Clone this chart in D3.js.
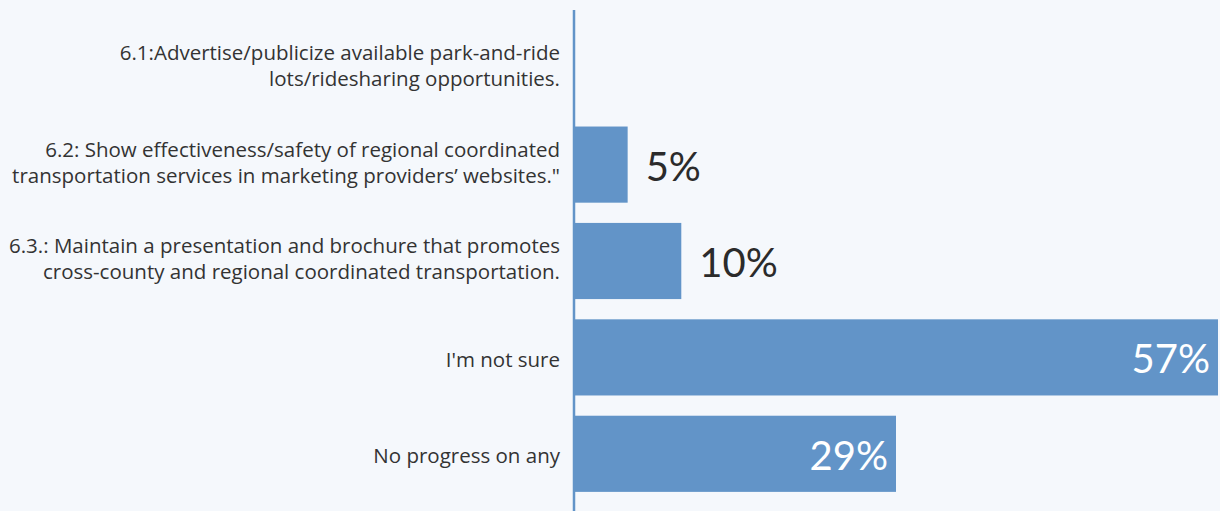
<!DOCTYPE html>
<html>
<head>
<meta charset="utf-8">
<script src="https://cdn.jsdelivr.net/npm/d3@7"></script>
<style>
  html, body { margin: 0; padding: 0; background: #f5f8fc; }
  svg { display: block; }
</style>
</head>
<body>
<svg id="chart" width="1220" height="511"></svg>
<script>
// Survey responses: progress on marketing strategies (share of respondents)
const categories = [
  ["6.1:Advertise/publicize available park-and-ride", "lots/ridesharing opportunities."],
  ["6.2: Show effectiveness/safety of regional coordinated", "transportation services in marketing providers\u2019 websites.\""],
  ["6.3.: Maintain a presentation and brochure that promotes", "cross-county and regional coordinated transportation."],
  ["I'm not sure"],
  ["No progress on any"]
];
const shares = [0, 4.76, 9.52, 57.14, 28.57];

const W = 1220, H = 511;
const axisX = 574;
const svg = d3.select("#chart");

svg.append("rect").attr("width", W).attr("height", H).attr("fill", "#f5f8fc");

const y = d3.scaleBand()
  .domain(d3.range(categories.length))
  .range([20, 502])
  .paddingInner(0.21)
  .paddingOuter(0.105);

const x = d3.scaleLinear()
  .domain([0, 57.14])
  .range([axisX, 1218]);

const fmt = v => d3.format(".0f")(v) + "%";
const barColor = "#6294c8";

// bars
svg.append("g").selectAll("rect")
  .data(shares)
  .join("rect")
  .attr("x", x(0))
  .attr("y", (d, i) => y(i))
  .attr("width", d => x(d) - x(0))
  .attr("height", y.bandwidth())
  .attr("fill", barColor);

// value labels: inside (white) for long bars, outside (dark) for short ones
svg.append("g").selectAll("text")
  .data(shares.map((v, i) => ({ v, i })).filter(d => d.v > 0))
  .join("text")
  .attr("x", d => d.v >= 20 ? x(d.v) - 8 : x(d.v) + 18)
  .attr("y", d => y(d.i) + y.bandwidth() / 2 + 2)
  .attr("dy", "0.35em")
  .attr("text-anchor", d => d.v >= 20 ? "end" : "start")
  .attr("fill", d => d.v >= 20 ? "#ffffff" : "#2b2b2b")
  .style("font-family", "Lato, 'Open Sans', sans-serif")
  .style("font-size", "40px")
  .text(d => fmt(d.v));

// category axis
const yAxis = d3.axisLeft(y).tickSize(0).tickPadding(14).tickFormat("");
const axisG = svg.append("g")
  .attr("transform", `translate(${axisX},0)`)
  .call(yAxis);
axisG.select(".domain").remove();

svg.append("line")
  .attr("x1", axisX).attr("x2", axisX)
  .attr("y1", 10).attr("y2", H)
  .attr("stroke", barColor)
  .attr("stroke-width", 2.5);

// multi-line category labels, right-aligned to the axis
const lineH = 26;
axisG.selectAll(".tick").each(function (i) {
  const lines = categories[i];
  const shift = lines.length > 1 ? -2 : 2;
  const t = d3.select(this).append("text")
    .attr("x", -14)
    .attr("text-anchor", "end")
    .attr("fill", "#333333")
    .style("font-family", "'Open Sans', sans-serif")
    .style("font-size", "20.5px");
  lines.forEach((ln, k) => {
    t.append("tspan")
      .attr("x", -14)
      .attr("y", (k - (lines.length - 1) / 2) * lineH + shift)
      .attr("dy", "0.35em")
      .text(ln);
  });
});
</script>
</body>
</html>
